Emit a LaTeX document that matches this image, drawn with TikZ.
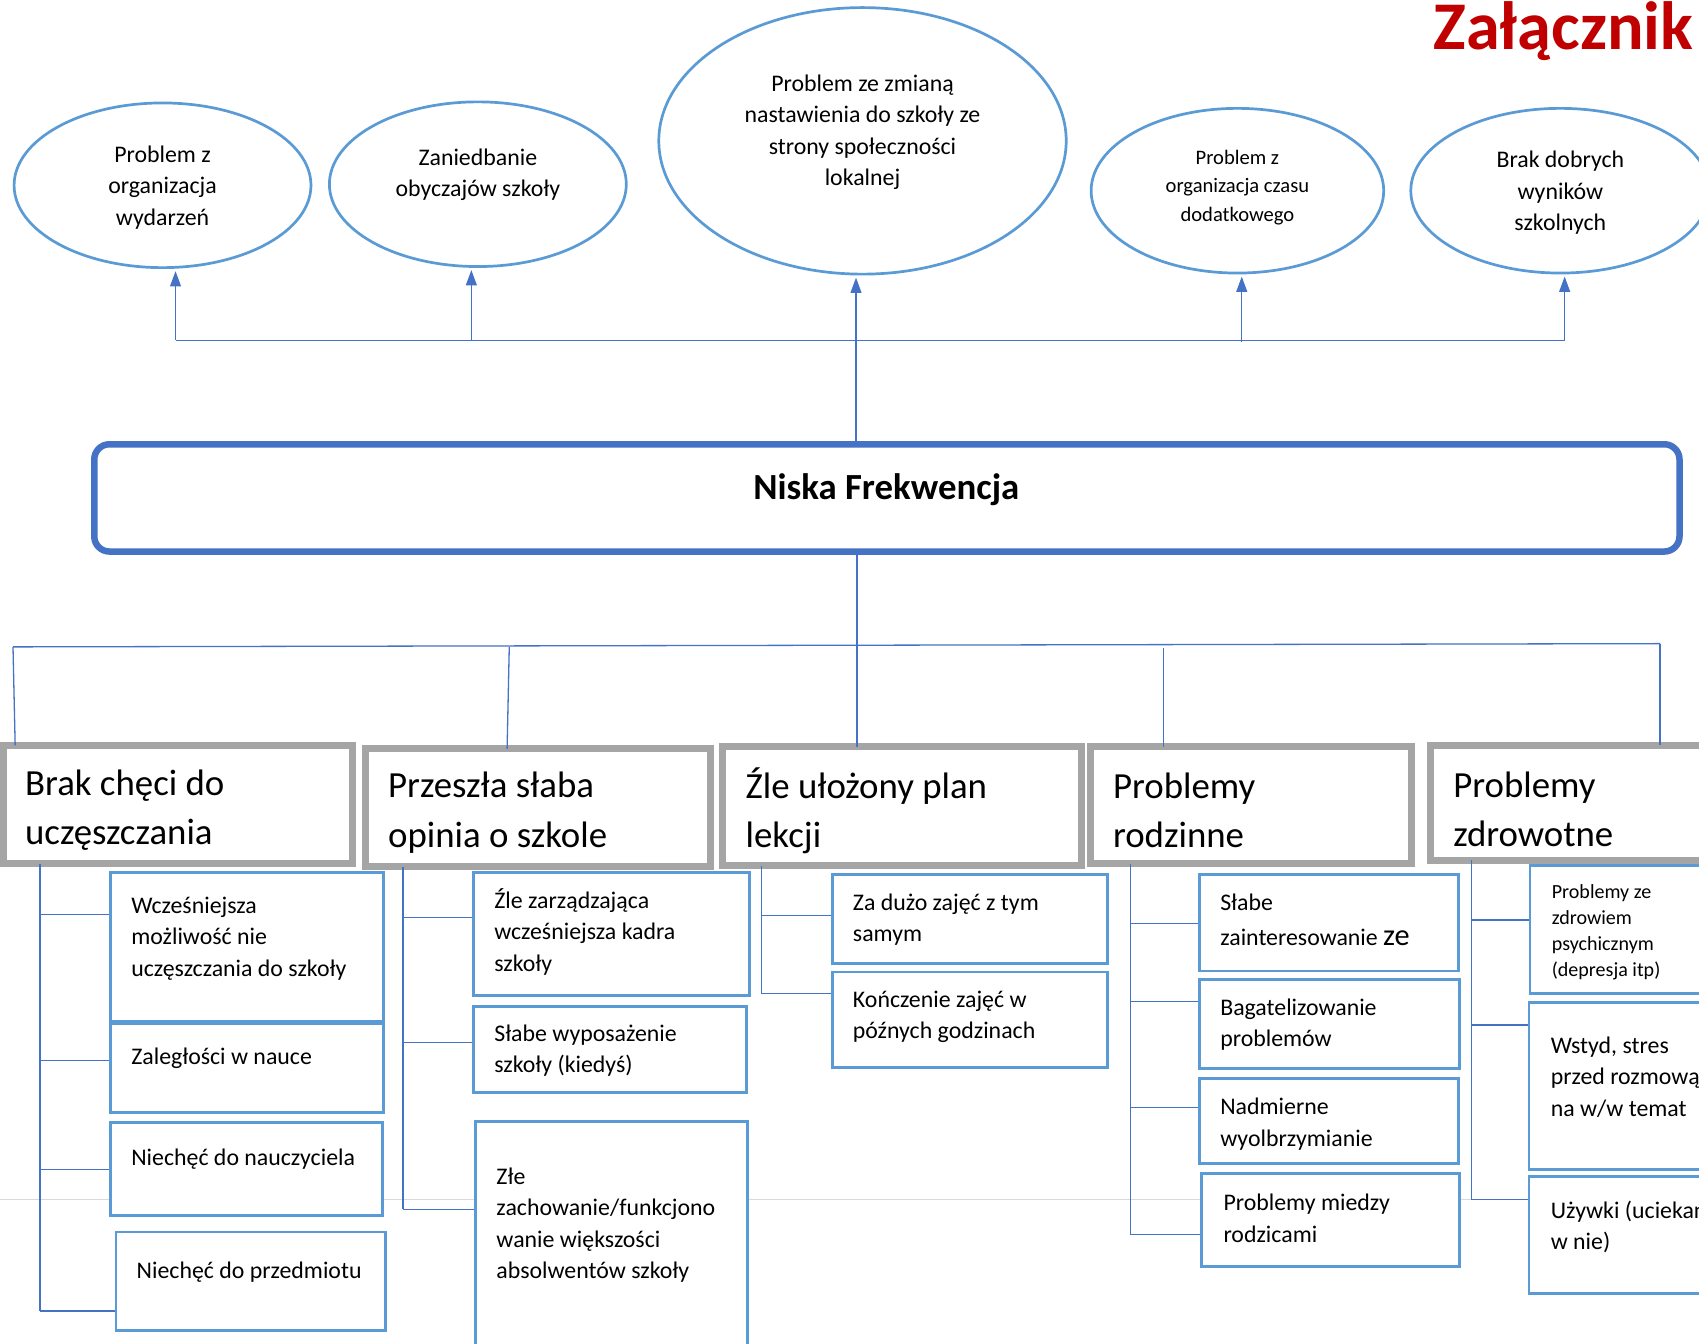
\documentclass[tikz,border=0pt]{standalone}
\usepackage{fontspec}
\setmainfont{Carlito}
\usetikzlibrary{arrows.meta,shapes.geometric,fit}
\definecolor{cblue}{HTML}{4472C4}
\definecolor{lblue}{HTML}{5B9BD5}
\definecolor{cgray}{HTML}{A5A5A5}
\definecolor{cred}{HTML}{C00000}
\definecolor{pgray}{HTML}{D9D9D9}
\begin{document}
\begin{tikzpicture}[x=1pt,y=-1pt,
  ell/.style={ellipse, draw=lblue, line width=2.5pt, fill=white, inner sep=0pt},
  subbox/.style={draw=lblue, line width=2.5pt, fill=white, inner sep=0pt},
  catbox/.style={draw=cgray, line width=6.5pt, fill=white, inner sep=0pt},
  mainbox/.style={draw=cblue, line width=6pt, rounded corners=14pt, fill=white, inner sep=0pt},
  conn/.style={draw=cblue, line width=1.2pt},
  arr/.style={conn, -{Triangle[width=10pt,length=14pt]}, shorten >=2pt},
  tsm/.style={inner sep=0pt, align=left, anchor=west, font=\fontsize{22}{29}\selectfont},
  tel/.style={inner sep=0pt, align=center, font=\fontsize{22}{29}\selectfont},
  tcat/.style={inner sep=0pt, align=left, anchor=west, font=\fontsize{34}{45.5}\selectfont}]
\useasboundingbox (0,0) rectangle (1568,1240);
\clip (0,0) rectangle (1568,1240);
% page separator line
\coordinate (pgL) at (0,1107);
\coordinate (pgR) at (1568,1107);
\draw[pgray, line width=1.5pt] (pgL) -- (pgR);

% title
\node[inner sep=0pt, anchor=base west, text=cred, font=\fontsize{63}{70}\selectfont\bfseries] (title) at (1323,46) {Załącznik};

% ellipses
\node[ell, minimum width=274pt, minimum height=152pt] (e1) at (150,171) {};
\node[ell, minimum width=274pt, minimum height=152pt] (e2) at (441,170) {};
\node[ell, minimum width=376pt, minimum height=246pt] (e3) at (796,130) {};
\node[ell, minimum width=270pt, minimum height=152pt] (e4) at (1142,176) {};
\node[ell, minimum width=276pt, minimum height=152pt] (e5) at (1440,176) {};
\node[tel] (e1t) at (150,173) {Problem z\\organizacja\\wydarzeń};
\node[tel] (e2t) at (441,161.5) {Zaniedbanie\\obyczajów szkoły};
\node[tel] (e3t) at (796,122) {Problem ze zmianą\\nastawienia do szkoły ze\\strony społeczności\\lokalnej};
\node[tel, font=\fontsize{19}{26}\selectfont] (e4t) at (1142,173) {Problem z\\organizacja czasu\\dodatkowego};
\node[tel] (e5t) at (1440,178) {Brak dobrych\\wyników\\szkolnych};

% main box
\node[mainbox, fit={(87,410)(1550,509)}] (main) {};
\node[inner sep=0pt, font=\fontsize{34}{40}\selectfont\bfseries] (maint) at (818,452) {Niska Frekwencja};

% top arrows
\coordinate (a1) at (162,314);
\coordinate (a2) at (435,314);
\coordinate (a3) at (790,410);
\coordinate (a4) at (1146,316);
\coordinate (a5) at (1444,314);
\draw[conn] (a1) -- (a5);
\draw[arr] (a1) -- (a1 |- e1.south);
\draw[arr] (a2) -- (a2 |- e2.south);
\draw[arr] (a3) -- (a3 |- e3.south);
\draw[arr] (a4) -- (a4 |- e4.south);
\draw[arr] (a5) -- (a5 |- e5.south);

% lower bus
\coordinate (m0) at (791,509);
\coordinate (bL) at (12,597);
\coordinate (bR) at (1532,594);
\coordinate (b2) at (470,597);
\coordinate (b3) at (791,595);
\coordinate (b4) at (1074,598);
\draw[conn] (m0) -- (b3);
\draw[conn] (bL) -- (bR);

% category boxes
\node[catbox, fit={(3,688)(325,797)}] (c1) {};
\node[catbox, fit={(337,691)(656,800)}] (c2) {};
\node[catbox, fit={(667,689)(998,799)}] (c3) {};
\node[catbox, fit={(1006,689)(1303,797)}] (c4) {};
\node[catbox, fit={(1320,688)(1600,794)}] (c5) {};
\node[tcat] (c1t) at (23,747.5) {Brak chęci do\\uczęszczania};
\node[tcat] (c2t) at (358,750) {Przeszła słaba\\opinia o szkole};
\node[tcat] (c3t) at (688,748.5) {Źle ułożony plan\\lekcji};
\node[tcat] (c4t) at (1027,748) {Problemy\\rodzinne};
\node[tcat] (c5t) at (1341,747) {Problemy\\zdrowotne};

\coordinate (d1) at (14,688);
\coordinate (d2) at (468,691);
\coordinate (d3) at (791,689);
\coordinate (d4) at (1074,689);
\coordinate (d5) at (1532,688);
\draw[conn] (bL) -- (d1);
\draw[conn] (b2) -- (d2);
\draw[conn] (b3) -- (d3);
\draw[conn] (b4) -- (d4);
\draw[conn] (bR) -- (d5);

% column 1
\node[subbox, fit={(102,805)(354,943)}] (s11) {};
\node[subbox, fit={(102,945)(354,1027)}] (s12) {};
\node[subbox, fit={(102,1036)(353,1122)}] (s13) {};
\node[subbox, fit={(107,1137)(356,1228)}] (s14) {};
\node[tsm] (s11t) at (121,866) {Wcześniejsza\\możliwość nie\\uczęszczania do szkoły};
\node[tsm] (s12t) at (121,977) {Zaległości w nauce};
\node[tsm] (s13t) at (121,1070) {Niechęć do nauczyciela};
\node[tsm] (s14t) at (126,1174) {Niechęć do przedmiotu};
\coordinate (t1) at (37,797);
\coordinate (j11) at (37,844);
\coordinate (j12) at (37,979);
\coordinate (j13) at (37,1079);
\coordinate (j14) at (37,1210);
\draw[conn] (t1) -- (j14);
\draw[conn] (j11) -- (j11 -| s11.west);
\draw[conn] (j12) -- (j12 -| s12.west);
\draw[conn] (j13) -- (j13 -| s13.west);
\draw[conn] (j14) -- (j14 -| s14.west);

% column 2
\node[subbox, fit={(437,805)(692,919)}] (s21) {};
\node[subbox, fit={(437,929)(689,1008)}] (s22) {};
\node[subbox, fit={(439,1035)(690,1260)}] (s23) {};
\node[tsm] (s21t) at (456,860) {Źle zarządzająca\\wcześniejsza kadra\\szkoły};
\node[tsm] (s22t) at (456,969.5) {Słabe wyposażenie\\szkoły (kiedyś)};
\node[tsm] (s23t) at (458,1130.5) {Złe\\zachowanie/funkcjono\\wanie większości\\absolwentów szkoły};
\coordinate (t2) at (372,800);
\coordinate (j21) at (372,847);
\coordinate (j22) at (372,962);
\coordinate (j23) at (372,1116);
\draw[conn] (t2) -- (j23);
\draw[conn] (j21) -- (j21 -| s21.west);
\draw[conn] (j22) -- (j22 -| s22.west);
\draw[conn] (j23) -- (j23 -| s23.west);

% column 3
\node[subbox, fit={(768,807)(1022,889)}] (s31) {};
\node[subbox, fit={(768,897)(1022,985)}] (s32) {};
\node[tsm] (s31t) at (787,848.5) {Za dużo zajęć z tym\\samym};
\node[tsm] (s32t) at (787,938.5) {Kończenie zajęć w\\późnych godzinach};
\coordinate (t3) at (703,799);
\coordinate (j31) at (703,845);
\coordinate (j32) at (703,917);
\draw[conn] (t3) -- (j32);
\draw[conn] (j31) -- (j31 -| s31.west);
\draw[conn] (j32) -- (j32 -| s32.west);

% column 4
\node[subbox, fit={(1107,807)(1346,896)}] (s41) {};
\node[subbox, fit={(1107,904)(1347,986)}] (s42) {};
\node[subbox, fit={(1107,995)(1346,1074)}] (s43) {};
\node[subbox, fit={(1109,1083)(1347,1169)}] (s44) {};
\node[tsm, font=\fontsize{22}{32}\selectfont] (s41t) at (1126,849) {Słabe\\zainteresowanie {\fontsize{28}{32}\selectfont ze}};
\node[tsm] (s42t) at (1126,945.5) {Bagatelizowanie\\problemów};
\node[tsm] (s43t) at (1126,1037.5) {Nadmierne\\wyolbrzymianie};
\node[tsm] (s44t) at (1129,1124.5) {Problemy miedzy\\rodzicami};
\coordinate (t4) at (1043,797);
\coordinate (j41) at (1043,852);
\coordinate (j42) at (1043,924);
\coordinate (j43) at (1043,1022);
\coordinate (j44) at (1043,1139);
\draw[conn] (t4) -- (j44);
\draw[conn] (j41) -- (j41 -| s41.west);
\draw[conn] (j42) -- (j42 -| s42.west);
\draw[conn] (j43) -- (j43 -| s43.west);
\draw[conn] (j44) -- (j44 -| s44.west);

% column 5
\node[subbox, fit={(1412,799)(1600,917)}] (s51) {};
\node[subbox, fit={(1411,925)(1600,1079)}] (s52) {};
\node[subbox, fit={(1411,1086)(1600,1194)}] (s53) {};
\node[tsm, font=\fontsize{18.5}{24}\selectfont] (s51t) at (1432,860) {Problemy ze\\zdrowiem\\psychicznym\\(depresja itp)};
\node[tsm] (s52t) at (1431,994) {Wstyd, stres\\przed rozmową\\na w/w temat};
\node[tsm] (s53t) at (1431,1132.5) {Używki (uciekanie\\w nie)};
\coordinate (t5) at (1358,794);
\coordinate (j51) at (1358,849);
\coordinate (j52) at (1358,946);
\coordinate (j53) at (1358,1107);
\draw[conn] (t5) -- (j53);
\draw[conn] (j51) -- (j51 -| s51.west);
\draw[conn] (j52) -- (j52 -| s52.west);
\draw[conn] (j53) -- (j53 -| s53.west);
\end{tikzpicture}
\end{document}
